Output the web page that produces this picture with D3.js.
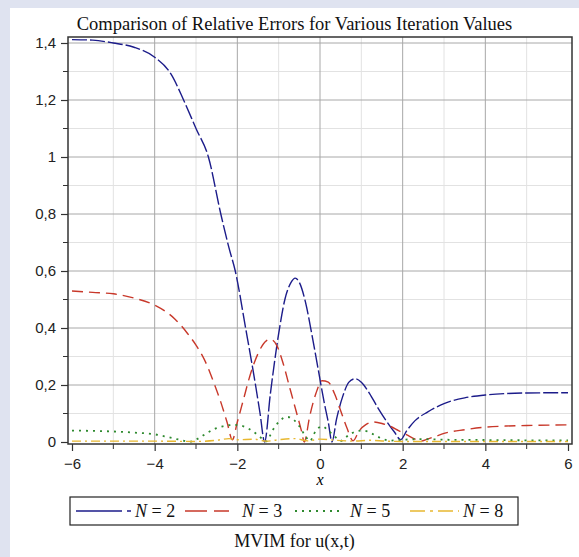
<!DOCTYPE html>
<html>
<head>
<meta charset="utf-8">
<script src="https://cdn.jsdelivr.net/npm/d3@7"></script>
<style>
  body { margin: 0; background: #dfe3f0; }
  svg { display: block; }
</style>
</head>
<body>
<div id="chart"></div>
<script>
// tick values and labels
const xTicks = [-6, -4, -2, 0, 2, 4, 6];
const xTickLabels = ["-6", "-4", "-2", "0", "2", "4", "6"];
const xMinor = [-5, -3, -1, 1, 3, 5];
const yTicks = [0, 0.2, 0.4, 0.6, 0.8, 1, 1.2, 1.4];
const yTickLabels = ["0", "0,2", "0,4", "0,6", "0,8", "1", "1,2", "1,4"];
const yMinor = [0.1, 0.3, 0.5, 0.7, 0.9, 1.1, 1.3];

const seriesNames = ["N = 2", "N = 3", "N = 5", "N = 8"];

// N = 2
const errN2 = [[-6,1.412],[-5.5,1.41],[-5,1.40],[-4.5,1.385],[-4,1.35],[-3.6,1.29],[-3.3,1.2],[-3,1.1],
  [-2.7,1.0],[-2.4,0.8],[-2.2,0.68],[-2.05,0.6],[-1.8,0.4],[-1.56,0.2],[-1.45,0.1],[-1.34,0.0],
  [-1.2,0.17],[-1.0,0.38],[-0.85,0.5],[-0.7,0.56],[-0.6,0.575],[-0.5,0.56],[-0.35,0.49],[-0.2,0.38],
  [-0.05,0.26],[0.1,0.14],[0.2,0.07],[0.29,0.0],[0.4,0.08],[0.55,0.16],[0.7,0.21],[0.85,0.222],
  [1.0,0.21],[1.2,0.17],[1.4,0.12],[1.6,0.075],[1.8,0.035],[1.95,0.008],[2.1,0.04],[2.3,0.075],
  [2.6,0.105],[3.0,0.135],[3.5,0.155],[4,0.165],[4.5,0.17],[5,0.172],[6,0.173]];

// N = 3
const errN3 = [[-6,0.53],[-5.5,0.525],[-5,0.52],[-4.5,0.505],[-4,0.48],[-3.5,0.43],[-3.2,0.38],[-3,0.34],
  [-2.8,0.29],[-2.6,0.22],[-2.4,0.14],[-2.25,0.07],[-2.12,0.008],[-2.0,0.07],[-1.85,0.15],[-1.7,0.23],
  [-1.5,0.31],[-1.3,0.355],[-1.2,0.36],[-1.05,0.34],[-0.9,0.28],[-0.75,0.2],[-0.6,0.12],[-0.45,0.04],
  [-0.38,0.0],[-0.25,0.09],[-0.1,0.17],[0.05,0.215],[0.2,0.21],[0.35,0.17],[0.5,0.11],[0.65,0.05],
  [0.8,0.004],[0.95,0.04],[1.1,0.06],[1.3,0.07],[1.5,0.065],[1.7,0.055],[1.9,0.04],[2.1,0.025],
  [2.3,0.01],[2.45,0.003],[2.6,0.01],[2.8,0.02],[3.0,0.03],[3.5,0.043],[4,0.052],[4.5,0.056],
  [5,0.058],[6,0.06]];

// N = 5
const errN5 = [[-6,0.04],[-5.5,0.039],[-5,0.037],[-4.5,0.033],[-4,0.027],[-3.7,0.018],[-3.4,0.008],
  [-3.15,0.001],[-2.95,0.012],[-2.75,0.03],[-2.55,0.046],[-2.35,0.055],[-2.1,0.06],[-1.85,0.055],
  [-1.6,0.035],[-1.4,0.012],[-1.3,0.002],[-1.15,0.04],[-1.0,0.07],[-0.8,0.088],[-0.65,0.08],
  [-0.5,0.055],[-0.35,0.02],[-0.25,0.003],[-0.1,0.04],[0.05,0.055],[0.2,0.04],[0.35,0.02],
  [0.5,0.004],[0.7,0.025],[0.9,0.038],[1.05,0.04],[1.25,0.03],[1.45,0.015],[1.7,0.005],[2,0.008],
  [2.5,0.01],[3,0.008],[4,0.007],[5,0.006],[6,0.006]];

// N = 8
const errN8 = [[-6,0.003],[-4,0.003],[-3,0.002],[-2.5,0.006],[-2.2,0.012],[-2.0,0.008],[-1.6,0.01],
  [-1.3,0.003],[-1,0.008],[-0.6,0.012],[-0.3,0.004],[0,0.01],[0.4,0.006],[0.8,0.003],[1.2,0.006],
  [1.6,0.003],[2,0.002],[3,0.002],[4,0.002],[6,0.002]];

const W = 579, H = 557;
const colours = ["#1c1c8a", "#c8382a", "#2f8a2f", "#e8b830"];
const dashes = ["15,3", "11,6", "2,5", "9,4,2,4"];
const legendDashes = ["46,5,4,100", "22,7", "2,5", "15,5,3,5"];

const svg = d3.select("#chart").append("svg")
  .attr("width", W)
  .attr("height", H);

// white panel
svg.append("rect")
  .attr("x", 10).attr("y", 8)
  .attr("width", W - 10).attr("height", H - 8)
  .attr("fill", "#fff");
const midX = (10 + W) / 2;

let x = d3.scaleLinear().domain([-6, 6]).range([72, 568]);
let y = d3.scaleLinear().domain([0, 1.4]).range([442, 43]);

const boxL = x(-6) - 4, boxR = x(6) + 4;
const boxT = 37, boxB = y(0) + 2;

// grid
svg.append("g").selectAll("line.minx")
  .data(xMinor).enter().append("line")
  .attr("x1", d => x(d)).attr("x2", d => x(d))
  .attr("y1", boxT).attr("y2", boxB)
  .attr("stroke", "#e2e2e2");
svg.append("g").selectAll("line.miny")
  .data(yMinor).enter().append("line")
  .attr("x1", boxL).attr("x2", boxR)
  .attr("y1", d => y(d)).attr("y2", d => y(d))
  .attr("stroke", "#e2e2e2");
svg.append("g").selectAll("line.majx")
  .data(xTicks.slice(1, -1)).enter().append("line")
  .attr("x1", d => x(d)).attr("x2", d => x(d))
  .attr("y1", boxT).attr("y2", boxB)
  .attr("stroke", "#a8a8a8");
svg.append("g").selectAll("line.majy")
  .data(yTicks.slice(1)).enter().append("line")
  .attr("x1", boxL).attr("x2", boxR)
  .attr("y1", d => y(d)).attr("y2", d => y(d))
  .attr("stroke", "#a8a8a8");

// curves
svg.append("clipPath").attr("id", "clip")
  .append("rect")
  .attr("x", boxL).attr("y", boxT - 2)
  .attr("width", boxR - boxL).attr("height", boxB - boxT + 2);

const line = d3.line()
  .x(d => x(d[0]))
  .y(d => y(d[1]))
  .curve(d3.curveMonotoneX);

const allSeries = [errN2, errN3, errN5, errN8];
svg.append("g").attr("clip-path", "url(#clip)")
  .selectAll("path")
  .data(allSeries).enter().append("path")
  .attr("d", line)
  .attr("fill", "none")
  .attr("stroke", (d, i) => colours[i])
  .attr("stroke-width", (d, i) => i == 2 ? 1.8 : 1.4)
  .attr("stroke-dasharray", (d, i) => dashes[i]);

// box
svg.append("rect")
  .attr("x", boxL).attr("y", boxT)
  .attr("width", boxR - boxL).attr("height", boxB - boxT)
  .attr("fill", "none")
  .attr("stroke", "#333")
  .attr("stroke-width", 1.5);

// axes
const tickFont = "'Liberation Sans', Arial, sans-serif";
const yAxis = d3.axisLeft(y).tickValues(yTicks)
  .tickFormat((d, i) => yTickLabels[i]).tickSize(7).tickPadding(5);
const gy = svg.append("g").attr("transform", `translate(${boxL},0)`).call(yAxis);
const xAxis = d3.axisBottom(x).tickValues(xTicks)
  .tickFormat((d, i) => xTickLabels[i]).tickSize(7).tickPadding(7);
const gx = svg.append("g").attr("transform", `translate(0,${boxB})`).call(xAxis);
[gx, gy].forEach(g => {
  g.select(".domain").remove();
  g.selectAll("line").attr("stroke", "#333").attr("stroke-width", 1.2);
  g.selectAll("text").style("font-family", tickFont).style("font-size", "15px").attr("fill", "#222");
});
gx.selectAll("text").text((d, i) => xTickLabels[i].replace("-", "\u2212"));

// minor ticks
svg.append("g").selectAll("line")
  .data(yMinor).enter().append("line")
  .attr("x1", boxL - 5).attr("x2", boxL)
  .attr("y1", d => y(d)).attr("y2", d => y(d))
  .attr("stroke", "#333");
svg.append("g").selectAll("line")
  .data(xMinor).enter().append("line")
  .attr("x1", d => x(d)).attr("x2", d => x(d))
  .attr("y1", boxB).attr("y2", boxB + 5)
  .attr("stroke", "#333");

const serif = "'Liberation Serif', 'Times New Roman', serif";

// title
svg.append("text")
  .attr("x", midX).attr("y", 30)
  .attr("text-anchor", "middle")
  .style("font-family", serif).style("font-size", "18.5px")
  .attr("fill", "#111")
  .text("Comparison of Relative Errors for Various Iteration Values");

// x label
svg.append("text")
  .attr("x", x(0)).attr("y", 485)
  .attr("text-anchor", "middle")
  .style("font-family", serif).style("font-size", "16px").style("font-style", "italic")
  .text("x");

// legend
const legX = 70, legY = 497, legW = 448, legH = 28;
svg.append("rect")
  .attr("x", legX).attr("y", legY)
  .attr("width", legW).attr("height", legH)
  .attr("fill", "#fff").attr("stroke", "#222").attr("stroke-width", 1.2);

const sampleX = [76, 185, 295, 410];
const sampleW = [56, 44, 48, 49];
const labelX = [135, 242, 350, 463];
seriesNames.forEach((name, i) => {
  svg.append("line")
    .attr("x1", sampleX[i]).attr("x2", sampleX[i] + sampleW[i])
    .attr("y1", legY + legH / 2).attr("y2", legY + legH / 2)
    .attr("stroke", colours[i])
    .attr("stroke-width", i == 2 ? 1.8 : 1.4)
    .attr("stroke-dasharray", legendDashes[i]);
  const t = svg.append("text")
    .attr("x", labelX[i]).attr("y", legY + legH / 2 + 6)
    .style("font-family", serif).style("font-size", "18px")
    .attr("fill", "#111");
  const parts = name.split(" = ");
  t.append("tspan").style("font-style", "italic").text(parts[0]);
  t.append("tspan").text(" = " + parts[1]);
});

// caption
svg.append("text")
  .attr("x", midX).attr("y", 547)
  .attr("text-anchor", "middle")
  .style("font-family", serif).style("font-size", "18px")
  .attr("fill", "#111")
  .text("MVIM for u(x,t)");
</script>
</body>
</html>
